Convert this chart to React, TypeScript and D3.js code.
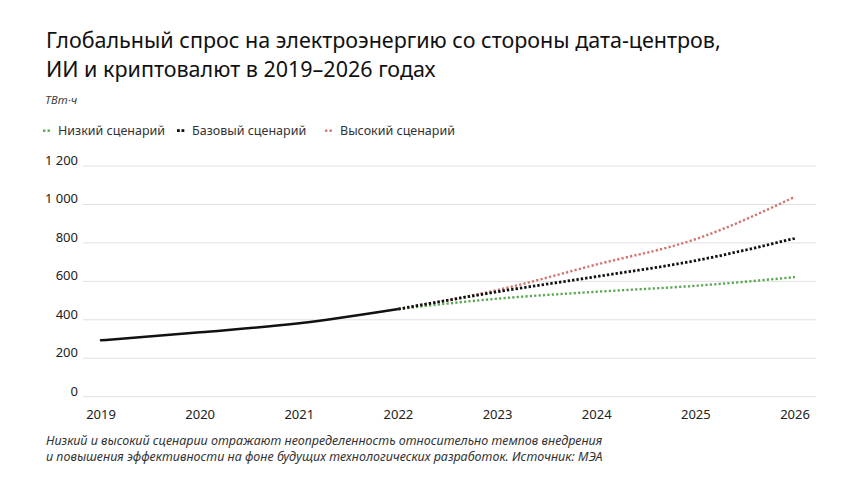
import React from "react";
import * as d3 from "d3";

const titleLines = [
  "Глобальный спрос на электроэнергию со стороны дата-центров,",
  "ИИ и криптовалют в 2019–2026 годах",
];
const unitLabel = "ТВт·ч";
const footnoteLines = [
  "Низкий и высокий сценарии отражают неопределенность относительно темпов внедрения",
  "и повышения эффективности на фоне будущих технологических разработок. Источник: МЭА",
];

const histYears = [2019, 2020, 2021, 2022];
const histValues = [293, 335, 382, 456];

const projYears = [2022, 2023, 2024, 2025, 2026];
const lowValues = [456, 510, 546, 577, 622];
const baseValues = [456, 546, 625, 708, 824];
const highValues = [456, 555, 688, 820, 1040];

const seriesNames = ["Низкий сценарий", "Базовый сценарий", "Высокий сценарий"];
const seriesColors = ["#5aa852", "#111111", "#d4726d"];

const yTicks = [0, 200, 400, 600, 800, 1000, 1200];
const yTickLabels = ["0", "200", "400", "600", "800", "1 000", "1 200"];
const xTicks = [2019, 2020, 2021, 2022, 2023, 2024, 2025, 2026];

const W = 860;
const H = 484;
const FONT = "'Noto Sans', 'Open Sans', sans-serif";

export default function App() {
  const x = d3.scaleLinear().domain([2019, 2026]).range([101, 795]);
  const y = d3.scaleLinear().domain([0, 1200]).range([396.7, 166]);

  const line = d3
    .line<[number, number]>()
    .x((d) => x(d[0]))
    .y((d) => y(d[1]))
    .curve(d3.curveMonotoneX);

  const hist = line(histYears.map((yr, i) => [yr, histValues[i]]));
  const proj = [lowValues, baseValues, highValues].map((vals) =>
    line(projYears.map((yr, i) => [yr, vals[i]]))
  );

  const legendX = [43, 177, 325];

  return (
    <svg
      width={W}
      height={H}
      style={{ position: "absolute", left: 0, top: 0, display: "block", background: "#fff" }}
      fontFamily={FONT}
    >
      <rect width={W} height={H} fill="#fff" />
      {titleLines.map((t, i) => (
        <text key={i} x={46} y={48 + i * 28.5} fontSize={21.5} fill="#111">
          {t}
        </text>
      ))}
      <text x={45} y={104} fontSize={11.5} fontStyle="italic" fill="#444">
        {unitLabel}
      </text>

      {seriesNames.map((name, i) => (
        <g key={name}>
          {[0, 1].map((k) => (
            <rect
              key={k}
              x={legendX[i] + k * 4.5}
              y={i === 1 ? 129.2 : 129.5}
              width={i === 1 ? 2.8 : 2.4}
              height={i === 1 ? 2.8 : 2.4}
              fill={seriesColors[i]}
            />
          ))}
          <text x={legendX[i] + 15} y={135} fontSize={12.5} fill="#333">
            {name}
          </text>
        </g>
      ))}

      {yTicks.map((t, i) => (
        <g key={t}>
          <line x1={83} x2={816} y1={y(t)} y2={y(t)} stroke="#e0e0e0" strokeWidth={1} />
          <text
            x={78}
            y={y(t) - 6}
            textAnchor="end"
            dominantBaseline="central"
            fontSize={13}
            fill="#222"
          >
            {yTickLabels[i]}
          </text>
        </g>
      ))}

      {xTicks.map((t) => (
        <text
          key={t}
          x={x(t)}
          y={413.5}
          textAnchor="middle"
          dominantBaseline="central"
          fontSize={13}
          fill="#222"
        >
          {t}
        </text>
      ))}

      <path d={hist || ""} fill="none" stroke="#111" strokeWidth={2.5} strokeLinecap="round" />
      {[2, 0, 1].map((i) => (
        <path
          key={i}
          d={proj[i] || ""}
          fill="none"
          stroke={seriesColors[i]}
          strokeWidth={i === 1 ? 2.8 : 2.4}
          strokeDasharray={i === 1 ? "2.4 2" : "2.2 2.2"}
        />
      ))}

      {footnoteLines.map((t, i) => (
        <text key={i} x={46} y={444.5 + i * 16.5} fontSize={12.5} fontStyle="italic" fill="#333">
          {t}
        </text>
      ))}
    </svg>
  );
}
